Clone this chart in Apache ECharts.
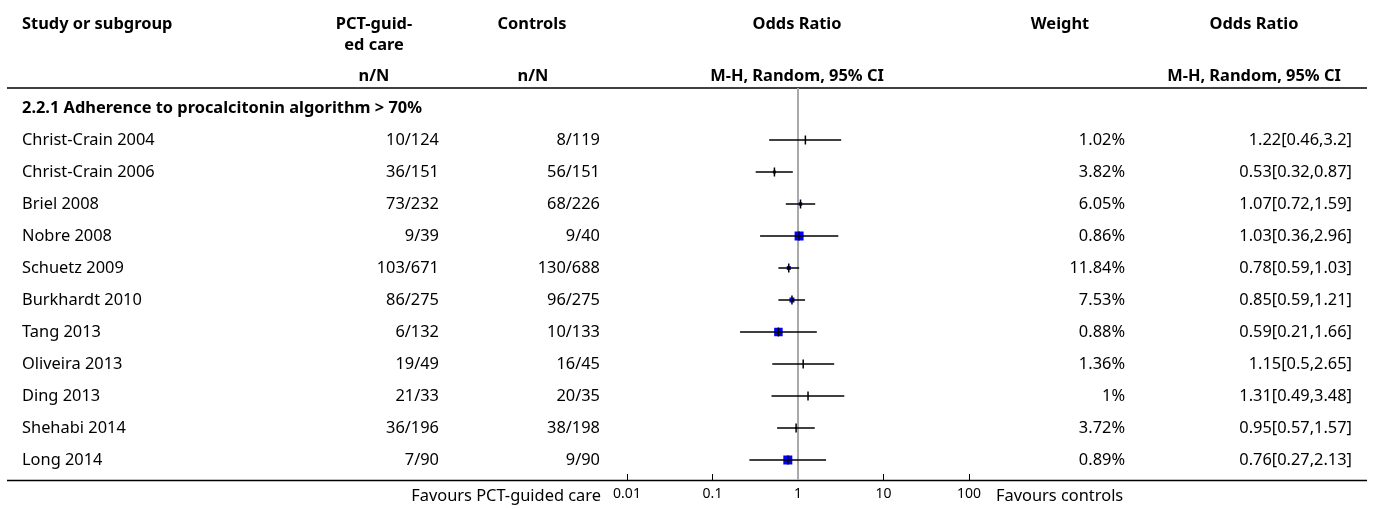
<!DOCTYPE html>
<html>
<head>
<meta charset="utf-8">
<script src="https://cdn.jsdelivr.net/npm/echarts@6/dist/echarts.min.js"></script>
<style>
  html, body { margin: 0; padding: 0; background: #fff; }
  #forest { width: 1375px; height: 509px; }
</style>
</head>
<body>
<div id="forest"></div>
<script>
  // data
  const studies = ['Christ-Crain 2004', 'Christ-Crain 2006', 'Briel 2008', 'Nobre 2008', 'Schuetz 2009',
    'Burkhardt 2010', 'Tang 2013', 'Oliveira 2013', 'Ding 2013', 'Shehabi 2014', 'Long 2014'];
  const pctEvents = [10, 36, 73, 9, 103, 86, 6, 19, 21, 36, 7];
  const pctTotal = [124, 151, 232, 39, 671, 275, 132, 49, 33, 196, 90];
  const ctlEvents = [8, 56, 68, 9, 130, 96, 10, 16, 20, 38, 9];
  const ctlTotal = [119, 151, 226, 40, 688, 275, 133, 45, 35, 198, 90];
  const weights = [1.02, 3.82, 6.05, 0.86, 11.84, 7.53, 0.88, 1.36, 1, 3.72, 0.89];
  const oddsRatio = [1.22, 0.53, 1.07, 1.03, 0.78, 0.85, 0.59, 1.15, 1.31, 0.95, 0.76];
  const ciLow = [0.46, 0.32, 0.72, 0.36, 0.59, 0.59, 0.21, 0.5, 0.49, 0.57, 0.27];
  const ciHigh = [3.2, 0.87, 1.59, 2.96, 1.03, 1.21, 1.66, 2.65, 3.48, 1.57, 2.13];
  const axisTicks = [0.01, 0.1, 1, 10, 100];
  const subgroup = '2.2.1 Adherence to procalcitonin algorithm > 70%';

  // box sizes as drawn in the picture (px)
  const boxPx = [0, 3, 3.5, 9, 4, 5, 8.5, 0, 0, 2, 9];

  const FONT = '"Noto Sans", sans-serif';
  const regular = '16.4px ' + FONT;
  const bold = 'bold 16.4px ' + FONT;
  const ink = '#000';

  const myChart = echarts.init(document.getElementById('forest'));

  function txt(text, x, y, align, font) {
    return {
      type: 'text', silent: true,
      style: {
        text: text, x: x, y: y, font: font || regular, fill: ink,
        align: align, verticalAlign: 'middle',
        textAlign: align, textVerticalAlign: 'middle'
      }
    };
  }

  function hline(y) {
    return {
      type: 'line', silent: true,
      shape: {x1: 7, y1: y, x2: 1367, y2: y},
      style: {stroke: '#000', lineWidth: 1.5}
    };
  }

  const rows = studies.map((s, i) => [1, i + 1]);
  const forestData = studies.map((s, i) => [oddsRatio[i], i + 1, ciLow[i], ciHigh[i]]);

  const option = {
    animation: false,
    grid: {left: 627, right: 406, top: 88, bottom: 29},
    xAxis: {
      type: 'log', logBase: 10, min: axisTicks[0], max: axisTicks[axisTicks.length - 1],
      axisLine: {show: false, onZero: false},
      axisTick: {show: true, inside: true, length: 6, lineStyle: {color: '#000', width: 1}},
      axisLabel: {fontSize: 14, color: ink, margin: 7, fontFamily: FONT},
      splitLine: {show: false},
      minorTick: {show: false}
    },
    yAxis: {type: 'value', inverse: true, min: -0.625, max: 11.625, show: false},
    graphic: [
      txt('Study or subgroup', 22, 24, 'left', bold),
      txt('PCT-guid-', 374, 24, 'center', bold),
      txt('ed care', 374, 45, 'center', bold),
      txt('n/N', 374, 76, 'center', bold),
      txt('Controls', 532, 24, 'center', bold),
      txt('n/N', 533, 76, 'center', bold),
      txt('Odds Ratio', 797, 24, 'center', bold),
      txt('M-H, Random, 95% CI', 797, 76, 'center', bold),
      txt('Weight', 1060, 24, 'center', bold),
      txt('Odds Ratio', 1254, 24, 'center', bold),
      txt('M-H, Random, 95% CI', 1254, 76, 'center', bold),
      hline(88),
      hline(480.5),
      txt('Favours PCT-guided care', 601, 496, 'right'),
      txt('Favours controls', 996, 496, 'left')
    ],
    series: [
      {
        // table columns
        type: 'custom',
        z: 1,
        clip: false,
        silent: true,
        data: rows,
        encode: {x: 0, y: 1},
        renderItem: function (params, api) {
          const i = params.dataIndex;
          const y = api.coord([1, api.value(1)])[1];
          const kids = [
            txt(studies[i], 22, y, 'left'),
            txt(pctEvents[i] + '/' + pctTotal[i], 439, y, 'right'),
            txt(ctlEvents[i] + '/' + ctlTotal[i], 600, y, 'right'),
            txt(weights[i] + '%', 1125, y, 'right'),
            txt(oddsRatio[i] + '[' + ciLow[i] + ',' + ciHigh[i] + ']', 1352, y, 'right')
          ];
          if (i === 0) {
            const yh = api.coord([1, 0])[1];
            kids.push(txt(subgroup, 22, yh, 'left', bold));
          }
          return {type: 'group', children: kids};
        },
        markLine: {
          silent: true,
          z: 1,
          symbol: 'none',
          label: {show: false},
          lineStyle: {color: '#aaa', width: 2, type: 'solid'},
          data: [{xAxis: 1}]
        }
      },
      {
        // study estimates and confidence intervals
        type: 'custom',
        z: 3,
        silent: true,
        clip: false,
        data: forestData,
        encode: {x: [0, 2, 3], y: 1},
        renderItem: function (params, api) {
          const i = params.dataIndex;
          const row = api.value(1);
          const pOr = api.coord([api.value(0), row]);
          const pLo = api.coord([api.value(2), row]);
          const pHi = api.coord([api.value(3), row]);
          const kids = [];
          const b = boxPx[i];
          if (b > 0) {
            kids.push({
              type: 'rect',
              shape: {x: pOr[0] - b / 2, y: pOr[1] - b / 2, width: b, height: b},
              style: {fill: '#0000ff'}
            });
          }
          kids.push({
            type: 'line',
            shape: {x1: pLo[0], y1: pLo[1], x2: pHi[0], y2: pHi[1]},
            style: {stroke: '#000', lineWidth: 1.5}
          });
          kids.push({
            type: 'line',
            shape: {x1: pOr[0], y1: pOr[1] - 4.5, x2: pOr[0], y2: pOr[1] + 4.5},
            style: {stroke: '#000', lineWidth: 1.5}
          });
          return {type: 'group', children: kids};
        }
      }
    ]
  };

  myChart.setOption(option);
</script>
</body>
</html>
